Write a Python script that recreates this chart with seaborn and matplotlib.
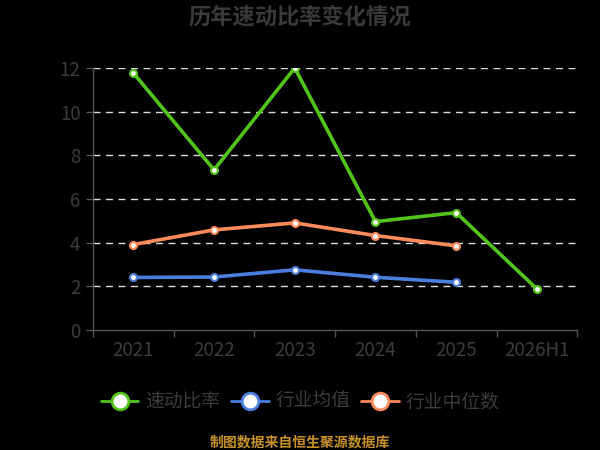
import pandas as pd
import numpy as np
import matplotlib
matplotlib.use('Agg')
import matplotlib.pyplot as plt
from matplotlib.lines import Line2D
import seaborn as sns

years = ['2021', '2022', '2023', '2024', '2025', '2026H1']
quick_ratio = [11.77, 7.33, 12.0, 4.96, 5.37, 1.88]
industry_mean = [2.40, 2.42, 2.75, 2.41, 2.18]
industry_median = [3.91, 4.58, 4.90, 4.32, 3.85]

series_names = ['速动比率', '行业均值', '行业中位数']
colors = ['#52C41A', '#4A7FE0', '#FF8A5B']

rows = []
for name, vals in zip(series_names, [quick_ratio, industry_mean, industry_median]):
    for y, v in zip(years, vals):
        rows.append({'year': y, 'value': v, 'series': name})
df = pd.DataFrame(rows)
df['x'] = df['year'].map({y: i for i, y in enumerate(years)})

sns.set_theme(style='white')
plt.rcParams['font.family'] = ['Noto Sans CJK SC', 'DejaVu Sans']

fig = plt.figure(figsize=(6, 4.5), dpi=100, facecolor='black')
ax = fig.add_axes([0.155, 0.267, 0.807, 0.582])
ax.set_facecolor('black')

for name, c in zip(series_names, colors):
    sub = df[df['series'] == name]
    sns.lineplot(data=sub, x='x', y='value', ax=ax, color=c, linewidth=2.6,
                 marker='o', markersize=5, markerfacecolor='white',
                 markeredgecolor=c, markeredgewidth=1.5, legend=False, zorder=3)

ax.set_xlim(-0.5, len(years) - 0.5)
ax.set_ylim(0, 12)
ax.set_yticks(range(0, 13, 2))
ax.set_xticks(range(len(years)))
ax.set_xticklabels(years)
ax.set_xticks(np.arange(-0.5, len(years), 1), minor=True)
for y in range(2, 13, 2):
    ax.axhline(y, color='#dddddd', linestyle=(0, (5, 4)), linewidth=1, zorder=1)

ax.set_xlabel('')
ax.set_ylabel('')
for s in ['top', 'right']:
    ax.spines[s].set_visible(False)
for s in ['left', 'bottom']:
    ax.spines[s].set_color('#555555')
    ax.spines[s].set_linewidth(1)
ax.tick_params(axis='x', which='major', length=0, pad=7, labelsize=13.5, labelcolor='#3c3c3c')
ax.tick_params(axis='x', which='minor', length=5, color='#555555', width=1, bottom=True)
ax.tick_params(axis='y', length=5, color='#555555', width=1, left=True, pad=4,
               labelsize=13.5, labelcolor='#3c3c3c')

fig.text(0.5, 0.962, '历年速动比率变化情况', ha='center', va='center',
         fontsize=16, fontweight='bold', color='#3a3a3a')

handles = [Line2D([0], [0], color=c, linewidth=2, marker='o', markersize=12,
                  markerfacecolor='white', markeredgecolor=c, markeredgewidth=2)
           for c in colors]
leg = fig.legend(handles, series_names, loc='center', bbox_to_anchor=(0.5, 0.107),
                 ncol=3, frameon=False, fontsize=13.5, handlelength=2.0,
                 handletextpad=0.35, columnspacing=0.6)
for t in leg.get_texts():
    t.set_color('#3c3c3c')

fig.text(0.5, 0.018, '制图数据来自恒生聚源数据库', ha='center', va='center',
         fontsize=10, color='#C8922A', fontweight='bold')

fig.savefig('out.png', dpi=100, facecolor='black')
